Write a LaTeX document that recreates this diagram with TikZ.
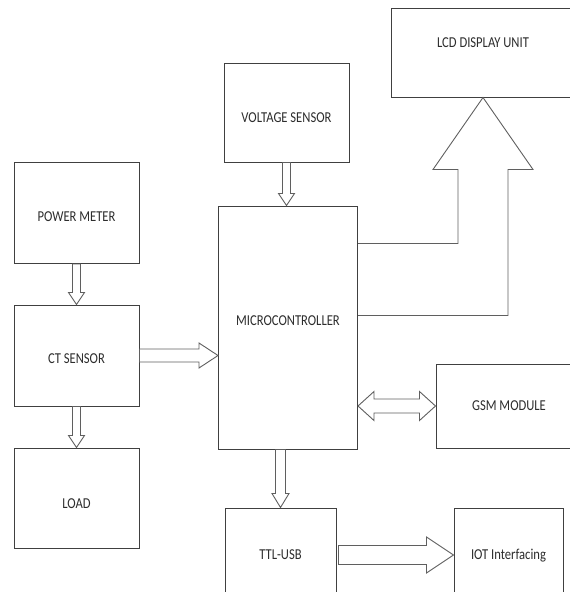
\documentclass[tikz,border=0pt]{standalone}
\usepackage{fontspec}
\setmainfont{Carlito}
\usepackage{tikz}
\usetikzlibrary{calc}
\definecolor{boxgray}{RGB}{64,64,64}
\definecolor{arrowgray}{RGB}{95,95,95}
\definecolor{textgray}{RGB}{45,45,45}

\tikzset{
  block/.style={draw=boxgray, line width=1pt, fill=white, inner sep=0pt,
    text=textgray, font=\fontsize{12.6}{14}\selectfont,
    text height=9.7pt, text depth=0pt},
  blockarrow/.style={draw=arrowgray, line width=0.9pt, fill=white}
}
\newcommand{\tallcaps}[1]{\scalebox{1}[1.2]{#1}}

% block arrows: #1 start, #2 tip, #3 shaft half width, #4 head half width, #5 head length
\newcommand{\downblock}[5]{%
  \draw[blockarrow] ($(#1)+(-#3,0)$) -- ($(#2)+(-#3,-#5)$) -- ($(#2)+(-#4,-#5)$) -- (#2)
    -- ($(#2)+(#4,-#5)$) -- ($(#2)+(#3,-#5)$) -- ($(#1)+(#3,0)$) -- cycle;}
\newcommand{\rightblock}[5]{%
  \draw[blockarrow] ($(#1)+(0,-#3)$) -- ($(#2)+(-#5,-#3)$) -- ($(#2)+(-#5,-#4)$) -- (#2)
    -- ($(#2)+(-#5,#4)$) -- ($(#2)+(-#5,#3)$) -- ($(#1)+(0,#3)$) -- cycle;}
\newcommand{\bothblock}[5]{%
  \draw[blockarrow] (#1) -- ($(#1)+(#5,-#4)$) -- ($(#1)+(#5,-#3)$) -- ($(#2)+(-#5,-#3)$)
    -- ($(#2)+(-#5,-#4)$) -- (#2) -- ($(#2)+(-#5,#4)$) -- ($(#2)+(-#5,#3)$)
    -- ($(#1)+(#5,#3)$) -- ($(#1)+(#5,#4)$) -- cycle;}

\begin{document}
\begin{tikzpicture}[x=1pt, y=-1pt]
  \useasboundingbox (0,0) rectangle (570,592);
  \clip (0,0) rectangle (570,592);

  % Blocks
  \node[block, minimum width=125pt, minimum height=101pt, text height=17.7pt] (pm) at (76.5,213) {\tallcaps{POWER METER}};
  \node[block, minimum width=125pt, minimum height=101pt, text height=16.7pt] (ct) at (76.5,355.5) {\tallcaps{CT SENSOR}};
  \node[block, minimum width=125pt, minimum height=100pt, text height=21.7pt] (load) at (76.5,498) {\tallcaps{LOAD}};
  \node[block, minimum width=125pt, minimum height=99pt, text height=20.7pt] (vs) at (286.5,112.5) {\tallcaps{VOLTAGE SENSOR}};
  \node[block, minimum width=139pt, minimum height=243pt, text depth=13pt] (mc) at (288,327.5) {\tallcaps{MICROCONTROLLER}};
  \node[block, minimum width=184pt, minimum height=89pt, text depth=19pt] (lcd) at (483,52.5) {\tallcaps{LCD DISPLAY UNIT}};
  \node[block, minimum width=146pt, minimum height=84pt] (gsm) at (509,406) {\tallcaps{GSM MODULE}};
  \node[block, minimum width=111pt, minimum height=94pt] (ttl) at (280.5,555) {\tallcaps{TTL-USB}};
  \node[block, minimum width=109pt, minimum height=94pt] (iot) at (508.5,555) {\tallcaps{IOT Interfacing}};

  % Arrows
  \downblock{pm.south}{ct.north}{4}{8}{12}
  \downblock{ct.south}{load.north}{4}{8}{12}
  \downblock{vs.south}{vs.south |- mc.north}{4}{8}{12}
  \downblock{ttl.north |- mc.south}{ttl.north}{5}{8.5}{14}
  \rightblock{ct.east}{mc.west |- ct.east}{6.5}{12.5}{19}
  \rightblock{$(ttl.east)+(2,0)$}{iot.west |- ttl.east}{9.5}{18}{27}
  \bothblock{mc.east |- gsm.west}{gsm.west}{7}{14.5}{16}

  % Big arrow to the display
  \coordinate (lbend) at ($(lcd.south)+(-25,146)$);
  \coordinate (rbend) at ($(lcd.south)+(25,218)$);
  \draw[blockarrow, fill=none] (lbend -| mc.east) -- (lbend) -- ($(lcd.south)+(-25,72)$) -- ($(lcd.south)+(-50,72)$)
    -- (lcd.south) -- ($(lcd.south)+(50,72)$) -- ($(lcd.south)+(25,72)$) -- (rbend) -- (rbend -| mc.east);
\end{tikzpicture}
\end{document}
